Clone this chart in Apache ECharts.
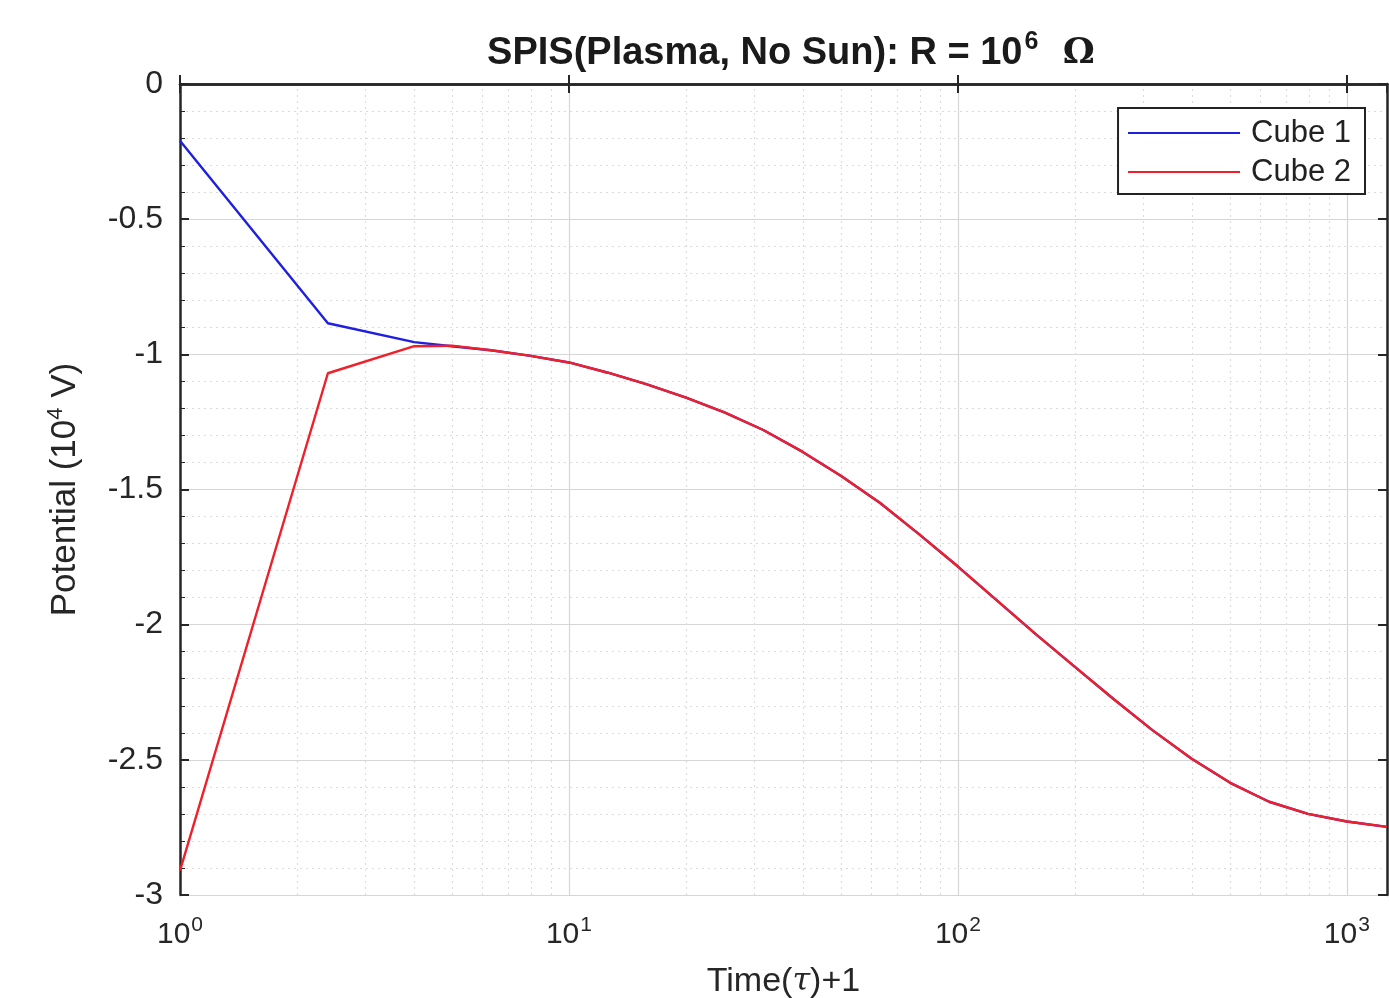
<!DOCTYPE html>
<html>
<head>
<meta charset="utf-8">
<script src="https://cdn.jsdelivr.net/npm/echarts@6/dist/echarts.min.js"></script>
<style>
  html, body { margin: 0; padding: 0; background: #fff; }
  #chart { width: 1389px; height: 998px; }
</style>
</head>
<body>
<div id="chart"></div>
<script>
// time + 1 (log axis)
var timeData = [1, 2.4, 4, 5, 6.3, 7.9, 10, 12.6, 15.8, 20, 25.1, 31.6, 39.8, 50.1, 63.1, 79.4, 100, 125.9, 158.5, 199.5, 251.2, 316.2, 398.1, 501.2, 631, 794.3, 1000, 1268];
var cube1Data = [-0.21, -0.885, -0.955, -0.97, -0.985, -1.005, -1.03, -1.068, -1.11, -1.16, -1.215, -1.28, -1.36, -1.45, -1.55, -1.665, -1.785, -1.91, -2.035, -2.155, -2.275, -2.39, -2.495, -2.585, -2.655, -2.7, -2.728, -2.748];
var cube2Data = [-2.91, -1.07, -0.97, -0.968, -0.985, -1.005, -1.03, -1.068, -1.11, -1.16, -1.215, -1.28, -1.36, -1.45, -1.55, -1.665, -1.785, -1.91, -2.035, -2.155, -2.275, -2.39, -2.495, -2.585, -2.655, -2.7, -2.728, -2.748];
var minorX = [2, 3, 4, 5, 6, 7, 8, 9, 20, 30, 40, 50, 60, 70, 80, 90, 200, 300, 400, 500, 600, 700, 800, 900];

var myChart = echarts.init(document.getElementById('chart'));
var font = 'Liberation Sans, Arial, sans-serif';
var axisColor = '#262626';

function pairs(ys) {
  var out = [];
  for (var i = 0; i < timeData.length; ++i) {
    out.push([timeData[i], ys[i]]);
  }
  return out;
}

var minorLines = [];
for (var i = 0; i < minorX.length; ++i) {
  minorLines.push({ xAxis: minorX[i] });
}

var option = {
  backgroundColor: '#fff',
  animation: false,
  title: {
    text: 'SPIS(Plasma, No Sun): R = 10{sup|6} {om|Ω}',
    left: 786,
    textAlign: 'center',
    top: 25,
    textStyle: {
      fontFamily: font,
      fontSize: 38,
      fontWeight: 'bold',
      color: '#1a1a1a',
      rich: {
        sup: { fontSize: 25, fontWeight: 'bold', padding: [0, 0, 22, 2], fontFamily: font, color: '#1a1a1a' },
        om: { fontSize: 36, fontFamily: 'DejaVu Serif, serif', color: '#1a1a1a', padding: [0, 0, 0, 14] }
      }
    }
  },
  legend: {
    orient: 'vertical',
    right: 24,
    top: 108,
    data: ['Cube 1', 'Cube 2'],
    icon: 'rect',
    itemWidth: 112,
    itemHeight: 2,
    itemGap: 7,
    padding: [9, 14, 6, 10],
    backgroundColor: '#fff',
    borderColor: '#222',
    borderWidth: 2,
    borderRadius: 0,
    textStyle: { fontFamily: font, fontSize: 31, lineHeight: 32, color: '#222', padding: [0, 0, 0, 6] }
  },
  grid: { left: 180, right: 2, top: 84, bottom: 103, outerBoundsMode: 'none', containLabel: false },
  xAxis: [{
    type: 'log',
    logBase: 10,
    min: 1,
    max: 1268,
    position: 'bottom',
    name: 'Time({tau|τ})+1',
    nameLocation: 'middle',
    nameGap: 70,
    nameTextStyle: {
      fontFamily: font,
      fontSize: 34,
      color: axisColor,
      rich: { tau: { fontFamily: 'DejaVu Serif, serif', fontStyle: 'italic', fontSize: 32, color: axisColor } }
    },
    axisLine: { show: true, lineStyle: { color: axisColor, width: 2.5 } },
    axisTick: { show: true, inside: true, length: 9, lineStyle: { color: axisColor, width: 2 } },
    axisLabel: {
      fontFamily: font,
      fontSize: 30,
      color: axisColor,
      margin: 20,
      showMaxLabel: false,
      formatter: function(v) {
        var e = Math.round(Math.log(v) / Math.LN10);
        return '10{sup|' + e + '}';
      },
      rich: {
        sup: { fontSize: 21, padding: [0, 0, 18, 1], color: axisColor, fontFamily: font }
      }
    },
    splitLine: { show: true, lineStyle: { color: '#d6d6d6', width: 1.2 } }
  }, {
    type: 'log',
    logBase: 10,
    min: 1,
    max: 1268,
    position: 'top',
    axisLine: { show: true, lineStyle: { color: axisColor, width: 2.5 } },
    axisTick: { show: true, inside: true, length: 9, lineStyle: { color: axisColor, width: 2 } },
    axisLabel: { show: false },
    splitLine: { show: false }
  }],
  yAxis: [{
    type: 'value',
    min: -3,
    max: 0,
    interval: 0.5,
    name: 'Potential (10{sup|4} V)',
    nameLocation: 'middle',
    nameGap: 95,
    nameTextStyle: {
      fontFamily: font,
      fontSize: 35,
      color: axisColor,
      rich: { sup: { fontSize: 22, padding: [0, 0, 18, 0], fontFamily: font, color: axisColor } }
    },
    axisLine: { show: true, lineStyle: { color: axisColor, width: 2.5 } },
    axisTick: { show: true, inside: true, length: 9, lineStyle: { color: axisColor, width: 2 } },
    minorTick: { show: true, splitNumber: 5, length: 5, lineStyle: { color: axisColor } },
    axisLabel: {
      fontFamily: font,
      fontSize: 32,
      color: axisColor,
      margin: 17,
      formatter: function(v) {
        return String(parseFloat(v.toFixed(1)));
      }
    },
    splitLine: { show: true, lineStyle: { color: '#d6d6d6', width: 1.2 } },
    minorSplitLine: { show: true, lineStyle: { color: '#dcdcdc', type: [2, 4], width: 1.2 } }
  }, {
    type: 'value',
    min: -3,
    max: 0,
    interval: 0.5,
    position: 'right',
    axisLine: { show: true, lineStyle: { color: axisColor, width: 2.5 } },
    axisTick: { show: true, inside: true, length: 9, lineStyle: { color: axisColor, width: 2 } },
    axisLabel: { show: false },
    splitLine: { show: false }
  }],
  series: [{
    name: 'Cube 1',
    type: 'line',
    data: pairs(cube1Data),
    showSymbol: false,
    symbol: 'none',
    color: '#1f1fe0',
    lineStyle: { width: 2.4 },
    markLine: {
      silent: true,
      symbol: 'none',
      label: { show: false },
      lineStyle: { color: '#dcdcdc', type: [2, 4], width: 1.2 },
      data: minorLines,
      z: 0
    },
    z: 3
  }, {
    name: 'Cube 2',
    type: 'line',
    data: pairs(cube2Data),
    showSymbol: false,
    symbol: 'none',
    color: '#f0202a',
    lineStyle: { width: 2.4 },
    z: 4
  }]
};

myChart.setOption(option);
</script>
</body>
</html>
